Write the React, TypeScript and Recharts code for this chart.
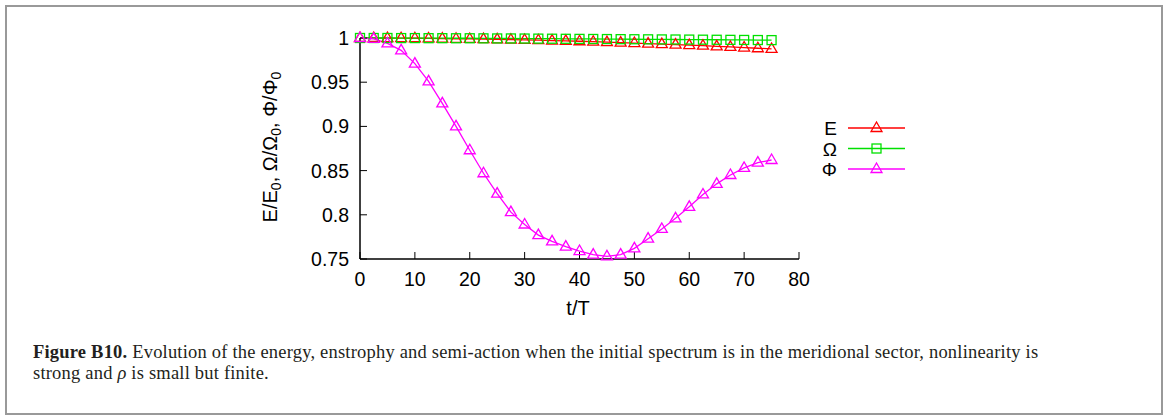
import { LineChart, Line, XAxis, YAxis } from 'recharts';

// time in wave periods
const times = [
  0, 2.5, 5, 7.5, 10, 12.5, 15, 17.5, 20, 22.5, 25, 27.5, 30, 32.5, 35, 37.5,
  40, 42.5, 45, 47.5, 50, 52.5, 55, 57.5, 60, 62.5, 65, 67.5, 70, 72.5, 75,
];

// E/E0
const energy = [
  1.0, 1.0, 0.9999, 0.9998, 0.9997, 0.9995, 0.9993, 0.9991, 0.9989, 0.9987,
  0.9984, 0.9981, 0.9978, 0.9975, 0.9971, 0.9967, 0.9963, 0.9958, 0.9953,
  0.9948, 0.9943, 0.9937, 0.9931, 0.9925, 0.9919, 0.9913, 0.9906, 0.9899,
  0.9892, 0.9884, 0.9876,
];

// Ω/Ω0
const enstrophy = [
  1.0, 1.0, 1.0, 0.9999, 0.9999, 0.9998, 0.9998, 0.9997, 0.9997, 0.9996,
  0.9995, 0.9995, 0.9994, 0.9993, 0.9992, 0.9991, 0.999, 0.9989, 0.9988,
  0.9987, 0.9986, 0.9985, 0.9984, 0.9983, 0.9982, 0.9981, 0.998, 0.9979,
  0.9978, 0.9977, 0.9976,
];

// Φ/Φ0
const semiAction = [
  1.0, 0.999, 0.994, 0.986, 0.971, 0.951, 0.926, 0.9, 0.873, 0.847, 0.824,
  0.803, 0.789, 0.777, 0.77, 0.764, 0.759, 0.755, 0.753, 0.755, 0.762, 0.773,
  0.784, 0.796, 0.809, 0.823, 0.835, 0.845, 0.853, 0.859, 0.862,
];

const xTicks = [0, 10, 20, 30, 40, 50, 60, 70, 80];
const yTicks = [0.75, 0.8, 0.85, 0.9, 0.95, 1];

const RED = '#ff0000';
const GREEN = '#00e000';
const MAGENTA = '#ff00ff';
const SANS = '"Liberation Sans", Arial, sans-serif';

const data = times.map((t, i) => ({
  t,
  E: energy[i],
  Om: enstrophy[i],
  Phi: semiAction[i],
}));

const triPoints = (cx: number, cy: number) =>
  `${cx},${cy - 6} ${cx - 5.5},${cy + 3.5} ${cx + 5.5},${cy + 3.5}`;

const triangleDot = (color: string) => (props: any) => {
  const { cx, cy, index } = props;
  return (
    <polygon
      key={`tri-${color}-${index}`}
      points={triPoints(cx, cy)}
      fill="none"
      stroke={color}
      strokeWidth={1.3}
    />
  );
};

const squareDot = (color: string) => (props: any) => {
  const { cx, cy, index } = props;
  return (
    <rect
      key={`sq-${index}`}
      x={cx - 4.5}
      y={cy - 4.5}
      width={9}
      height={9}
      fill="none"
      stroke={color}
      strokeWidth={1.3}
    />
  );
};

const YLabel = () => (
  <text
    transform="translate(277,147) rotate(-90)"
    textAnchor="middle"
    fontSize={20}
    fontFamily={SANS}
    fill="#000"
  >
    E/E<tspan dy={4} fontSize={14}>0</tspan>
    <tspan dy={-4}>, Ω/Ω</tspan>
    <tspan dy={4} fontSize={14}>0</tspan>
    <tspan dy={-4}>, Φ/Φ</tspan>
    <tspan dy={4} fontSize={14}>0</tspan>
  </text>
);

const XLabel = () => (
  <text x={578} y={315} textAnchor="middle" fontSize={20} fontFamily={SANS} fill="#000">
    t/T
  </text>
);

const legendRows = [
  { name: 'E', color: RED, shape: 'tri' },
  { name: 'Ω', color: GREEN, shape: 'sq' },
  { name: 'Φ', color: MAGENTA, shape: 'tri' },
];

const KeyBox = () => (
  <svg width={120} height={80} style={{ position: 'absolute', left: 800, top: 110 }}>
    {legendRows.map((r, i) => {
      const y = 18 + i * 20.5;
      return (
        <g key={r.name}>
          <text x={37} y={y + 7} textAnchor="end" fontSize={19} fontFamily={SANS} fill="#000">
            {r.name}
          </text>
          <line x1={48} x2={105} y1={y} y2={y} stroke={r.color} strokeWidth={1.3} />
          {r.shape === 'tri' ? (
            <polygon points={triPoints(76.5, y)} fill="none" stroke={r.color} strokeWidth={1.3} />
          ) : (
            <rect x={72} y={y - 4.5} width={9} height={9} fill="none" stroke={r.color} strokeWidth={1.3} />
          )}
        </g>
      );
    })}
  </svg>
);

const tickStyle = { fontSize: 19.5, fontFamily: SANS, fill: '#000' };

export default function App() {
  return (
    <div
      style={{
        position: 'absolute',
        left: 0,
        top: 0,
        width: 1168,
        height: 416,
        background: '#fff',
        overflow: 'hidden',
      }}
    >
      <div
        style={{
          position: 'absolute',
          left: 5,
          top: 5,
          width: 1154,
          height: 406,
          border: '2px solid #999',
        }}
      />
      <div style={{ position: 'absolute', left: 0, top: 0 }}>
        <LineChart
          width={1168}
          height={330}
          data={data}
          margin={{ top: 38, right: 369, left: 0, bottom: 11 }}
        >
          <XAxis
            dataKey="t"
            type="number"
            domain={[0, 80]}
            ticks={xTicks}
            tick={tickStyle}
            tickSize={-7}
            tickMargin={20}
            height={60}
            axisLine={{ stroke: '#000', strokeWidth: 1.5 }}
            tickLine={{ stroke: '#000', strokeWidth: 1 }}
            label={<XLabel />}
          />
          <XAxis
            xAxisId="top"
            orientation="top"
            dataKey="t"
            type="number"
            domain={[0, 80]}
            ticks={xTicks}
            tick={false}
            tickSize={-7}
            height={0}
            axisLine={{ stroke: '#000', strokeWidth: 1.5 }}
            tickLine={{ stroke: '#000', strokeWidth: 1 }}
          />
          <YAxis
            type="number"
            domain={[0.75, 1]}
            ticks={yTicks}
            tick={tickStyle}
            tickFormatter={(v: number) => String(v)}
            tickSize={-7}
            tickMargin={18}
            width={360}
            axisLine={{ stroke: '#000', strokeWidth: 1.5 }}
            tickLine={{ stroke: '#000', strokeWidth: 1 }}
            label={<YLabel />}
          />
          <YAxis
            yAxisId="right"
            orientation="right"
            type="number"
            domain={[0.75, 1]}
            ticks={yTicks}
            tick={false}
            tickSize={-7}
            width={0}
            axisLine={{ stroke: '#000', strokeWidth: 1.5 }}
            tickLine={{ stroke: '#000', strokeWidth: 1 }}
          />
          <Line
            dataKey="E"
            type="linear"
            stroke={RED}
            strokeWidth={1.3}
            dot={triangleDot(RED)}
            isAnimationActive={false}
          />
          <Line
            dataKey="Om"
            type="linear"
            stroke={GREEN}
            strokeWidth={1.3}
            dot={squareDot(GREEN)}
            isAnimationActive={false}
          />
          <Line
            dataKey="Phi"
            type="linear"
            stroke={MAGENTA}
            strokeWidth={1.3}
            dot={triangleDot(MAGENTA)}
            isAnimationActive={false}
          />
        </LineChart>
      </div>
      <KeyBox />
      <div
        style={{
          position: 'absolute',
          left: 33,
          top: 342,
          fontFamily: '"Liberation Serif", "Times New Roman", serif',
          fontSize: 18.5,
          letterSpacing: 0.2,
          lineHeight: '21px',
          color: '#231f20',
          whiteSpace: 'nowrap',
        }}
      >
        <div>
          <b>Figure B10.</b> Evolution of the energy, enstrophy and semi-action when the initial
          spectrum is in the meridional sector, nonlinearity is
        </div>
        <div>
          strong and <i>ρ</i> is small but finite.
        </div>
      </div>
    </div>
  );
}
